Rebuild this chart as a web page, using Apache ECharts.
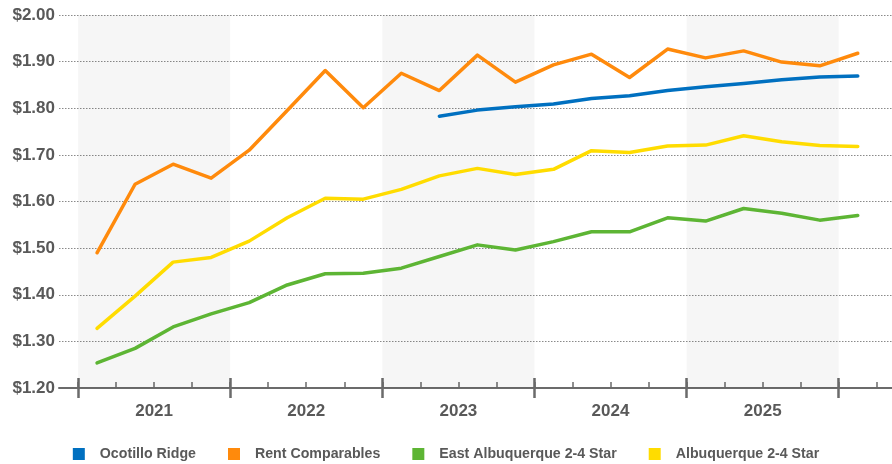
<!DOCTYPE html>
<html>
<head>
<meta charset="utf-8">
<script src="https://cdn.jsdelivr.net/npm/echarts@6/dist/echarts.min.js"></script>
<style>
html,body{margin:0;padding:0;background:#fff;}
#chart{width:892px;height:464px;}
</style>
</head>
<body>
<div id="chart"></div>
<script>
// Quarters 2021 Q1 .. 2026 Q1 (points plotted at the middle of each quarter)
const quarters = ['2021 Q1','2021 Q2','2021 Q3','2021 Q4','2022 Q1','2022 Q2','2022 Q3','2022 Q4',
  '2023 Q1','2023 Q2','2023 Q3','2023 Q4','2024 Q1','2024 Q2','2024 Q3','2024 Q4',
  '2025 Q1','2025 Q2','2025 Q3','2025 Q4','2026 Q1'];
const yearLabels = ['2021','2022','2023','2024','2025'];
const shadedYears = ['2021','2023','2025'];

const ocotilloRidge = [null,null,null,null,null,null,null,null,null,
  1.783,1.796,1.803,1.809,1.821,1.827,1.838,1.846,1.853,1.861,1.867,1.869];
const rentComparables = [1.490,1.637,1.680,1.650,1.710,1.795,1.881,1.801,1.875,1.838,1.914,1.856,
  1.893,1.916,1.866,1.927,1.908,1.923,1.899,1.891,1.918];
const eastAlbuquerque = [1.254,1.285,1.331,1.359,1.383,1.421,1.445,1.446,1.457,1.482,1.507,1.496,
  1.514,1.535,1.535,1.565,1.558,1.585,1.575,1.560,1.570];
const albuquerque = [1.328,1.397,1.470,1.480,1.515,1.565,1.607,1.605,1.626,1.655,1.671,1.658,
  1.669,1.709,1.705,1.719,1.721,1.741,1.728,1.720,1.718];

const seriesNames = ['Ocotillo Ridge','Rent Comparables','East Albuquerque 2-4 Star','Albuquerque 2-4 Star'];
const seriesColors = ['#0070c0','#ff8a0c','#5db534','#ffdc00'];
const seriesData = [ocotilloRidge, rentComparables, eastAlbuquerque, albuquerque];

const firstYear = parseInt(yearLabels[0], 10);
const toPairs = arr => arr.map((v, i) => [i + 0.5, v]);
const quarterTicks = quarters.map((q, i) => i).concat([quarters.length]);
const yearTicks = yearLabels.map((y, i) => i * 4).concat([yearLabels.length * 4]);
const yearLabelPos = yearLabels.map((y, i) => i * 4 + 2);
const shadeAreas = shadedYears.map(y => {
  const s = (parseInt(y, 10) - firstYear) * 4;
  return [{xAxis: s}, {xAxis: s + 4}];
});

const axisGray = '#6b6b6b';
const textGray = '#595959';
const XMIN = -0.5, XMAX = 21.4;

const chart = echarts.init(document.getElementById('chart'), null, {renderer: 'canvas'});

const series = seriesNames.map((name, k) => ({
  name: name,
  type: 'line',
  data: toPairs(seriesData[k]),
  showSymbol: false,
  symbol: 'none',
  connectNulls: false,
  lineStyle: {width: 3.5, color: seriesColors[k], join: 'round', cap: 'round'},
  itemStyle: {color: seriesColors[k]},
  z: 5 + k,
  animation: false
}));
series.push({
  name: 'shade',
  type: 'line',
  data: [],
  silent: true,
  markArea: {
    silent: true,
    itemStyle: {color: 'rgba(0,0,0,0.035)'},
    data: shadeAreas
  },
  z: 1,
  animation: false
});

const baseX = {
  type: 'value', min: XMIN, max: XMAX, gridIndex: 0, position: 'bottom',
  splitLine: {show: false}, axisLabel: {show: false}
};

chart.setOption({
  animation: false,
  backgroundColor: '#ffffff',
  grid: {left: 59, right: 0, top: 15, bottom: 76},
  legend: {
    data: seriesNames,
    top: 442,
    left: 'center',
    icon: 'rect',
    itemWidth: 12,
    itemHeight: 12,
    itemGap: 32,
    textStyle: {color: textGray, fontSize: 14.2, fontWeight: 'bold', fontFamily: 'Liberation Sans, Arial, sans-serif', padding: [0, 0, 0, 10]}
  },
  xAxis: [
    Object.assign({}, baseX, {
      axisLine: {show: true, onZero: false, lineStyle: {color: axisGray, width: 2}},
      axisTick: {show: true, inside: true, length: 6, customValues: quarterTicks, lineStyle: {color: axisGray, width: 1.5}},
      axisLabel: {
        show: true, customValues: yearLabelPos, margin: 15,
        color: textGray, fontSize: 17, fontWeight: 'bold', fontFamily: 'Liberation Sans, Arial, sans-serif',
        formatter: v => yearLabels[Math.round((v - 2) / 4)] || ''
      }
    }),
    Object.assign({}, baseX, {
      axisLine: {show: false, onZero: false},
      axisTick: {show: true, inside: true, length: 10, customValues: yearTicks, lineStyle: {color: axisGray, width: 2.5}}
    }),
    Object.assign({}, baseX, {
      axisLine: {show: false, onZero: false},
      axisTick: {show: true, inside: false, length: 10, customValues: yearTicks, lineStyle: {color: axisGray, width: 2.5}}
    })
  ],
  yAxis: {
    type: 'value', min: 1.2, max: 2.0, interval: 0.1,
    axisLine: {show: false}, axisTick: {show: false},
    splitLine: {show: true, lineStyle: {color: '#8a8a8a', type: [1.5, 1.5], width: 1}},
    axisLabel: {
      margin: 4, color: textGray, fontSize: 17, fontWeight: 'bold', fontFamily: 'Liberation Sans, Arial, sans-serif',
      formatter: v => '$' + v.toFixed(2)
    }
  },
  series: series
});
</script>
</body>
</html>
